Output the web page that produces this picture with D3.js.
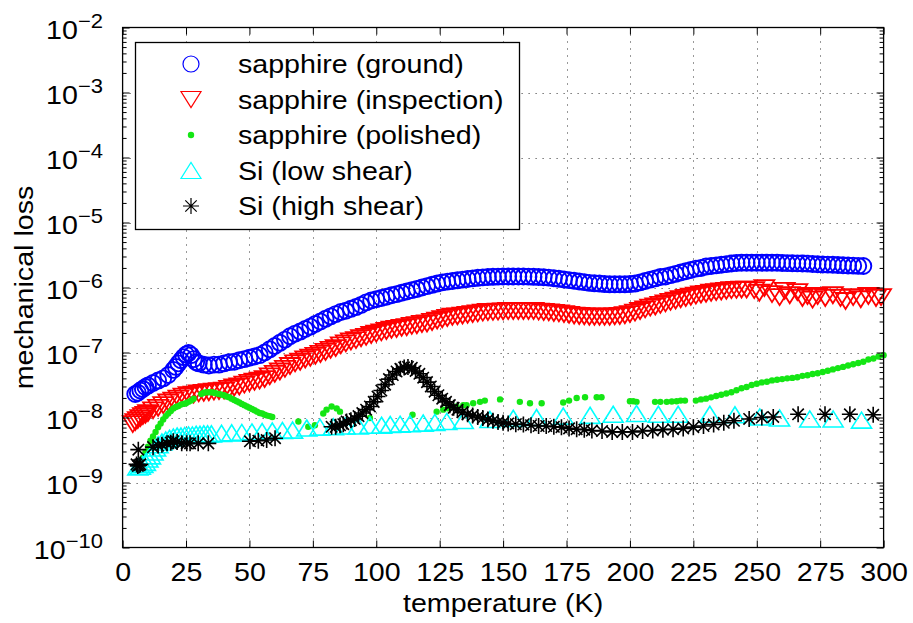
<!DOCTYPE html>
<html>
<head>
<meta charset="utf-8">
<script src="https://cdn.jsdelivr.net/npm/d3@7"></script>
<style>
  body { margin: 0; background: #fff; }
  svg { display: block; font-family: "Liberation Sans", Arial, Helvetica, sans-serif; }
</style>
</head>
<body>
<svg id="chart" width="913" height="623"></svg>
<script>
// [temperature (K), mechanical loss]
const ground = [
  [5,2.3e-8],[6,2.4e-8],[7,2.6e-8],[8,2.75e-8],[9,2.95e-8],[10,3.1e-8],[12,3.4e-8],[14,3.7e-8],[16,4.0e-8],[18,4.5e-8],
  [20,5.4e-8],[21,6.0e-8],[22,6.8e-8],[23,7.6e-8],[24,8.5e-8],[25,9.3e-8],[26,9.8e-8],[27,9.1e-8],[28,7.9e-8],[29,7.1e-8],
  [30,6.8e-8],[32,6.5e-8],[34,6.3e-8],[36,6.5e-8],[38,6.5e-8],[40,6.8e-8],[42,7.1e-8],[44,7.2e-8],[46,7.6e-8],[48,7.9e-8],
  [50,8.3e-8],[52,8.7e-8],[54,9.1e-8],[56,1.0e-7],[58,1.12e-7],[60,1.26e-7],[62,1.41e-7],[64,1.58e-7],[66,1.78e-7],[68,1.95e-7],
  [70,2.1e-7],[72,2.3e-7],[74,2.5e-7],[76,2.75e-7],[78,3.0e-7],[80,3.3e-7],[82,3.6e-7],[84,3.9e-7],[86,4.2e-7],[88,4.4e-7],
  [90,4.7e-7],[92,5.0e-7],[94,5.4e-7],[96,5.9e-7],[98,6.3e-7],[100,6.6e-7],[102,6.9e-7],[104,7.2e-7],[106,7.6e-7],[108,7.9e-7],
  [110,8.3e-7],[112,8.7e-7],[114,9.1e-7],[116,9.5e-7],[118,1.0e-6],[120,1.05e-6],[122,1.1e-6],[124,1.15e-6],[126,1.2e-6],[128,1.23e-6],
  [130,1.26e-6],[132,1.29e-6],[134,1.32e-6],[136,1.35e-6],[138,1.38e-6],[140,1.41e-6],[142,1.43e-6],[144,1.45e-6],[146,1.46e-6],[148,1.47e-6],
  [150,1.48e-6],[152,1.48e-6],[154,1.48e-6],[156,1.48e-6],[158,1.48e-6],[160,1.47e-6],[162,1.46e-6],[164,1.45e-6],[166,1.44e-6],[168,1.42e-6],
  [170,1.39e-6],[172,1.36e-6],[174,1.33e-6],[176,1.3e-6],[178,1.27e-6],[180,1.24e-6],[182,1.21e-6],[184,1.18e-6],[186,1.16e-6],[188,1.15e-6],
  [190,1.13e-6],[192,1.12e-6],[194,1.12e-6],[196,1.12e-6],[198,1.12e-6],[200,1.13e-6],[202,1.15e-6],[204,1.2e-6],[206,1.26e-6],[208,1.32e-6],
  [210,1.38e-6],[212,1.45e-6],[214,1.48e-6],[216,1.55e-6],[218,1.62e-6],[220,1.7e-6],[222,1.78e-6],[224,1.86e-6],[226,1.95e-6],[228,2.0e-6],
  [230,2.1e-6],[232,2.14e-6],[234,2.19e-6],[236,2.24e-6],[238,2.29e-6],[240,2.34e-6],[242,2.38e-6],[244,2.4e-6],[246,2.4e-6],[248,2.4e-6],
  [250,2.4e-6],[252,2.4e-6],[254,2.4e-6],[256,2.4e-6],[258,2.4e-6],[260,2.38e-6],[262,2.37e-6],[264,2.36e-6],[266,2.35e-6],[268,2.34e-6],
  [270,2.33e-6],[272,2.3e-6],[274,2.28e-6],[276,2.26e-6],[278,2.25e-6],[280,2.24e-6],[282,2.22e-6],[284,2.2e-6],[286,2.18e-6],[288,2.17e-6],
  [290,2.15e-6],[292,2.14e-6]
];

const inspection = [
  [4,7.9e-9],[5,8.5e-9],[6,9.1e-9],[7,9.8e-9],[8,1.05e-8],[9,1.1e-8],[10,1.17e-8],[12,1.29e-8],[14,1.41e-8],[16,1.55e-8],
  [18,1.7e-8],[20,1.82e-8],[22,1.95e-8],[24,2.1e-8],[26,2.2e-8],[28,2.25e-8],[30,2.35e-8],[32,2.4e-8],[34,2.45e-8],[36,2.5e-8],
  [38,2.55e-8],[40,2.6e-8],[42,2.75e-8],[44,2.9e-8],[46,3.0e-8],[48,3.2e-8],[50,3.4e-8],[52,3.55e-8],[54,3.7e-8],[56,3.9e-8],
  [58,4.3e-8],[60,4.7e-8],[62,5.1e-8],[64,5.6e-8],[66,6.2e-8],[68,6.8e-8],[70,7.2e-8],[72,7.8e-8],[74,8.3e-8],[76,8.9e-8],
  [78,9.5e-8],[80,1.02e-7],[82,1.1e-7],[84,1.17e-7],[86,1.29e-7],[88,1.38e-7],[90,1.48e-7],[92,1.55e-7],[94,1.66e-7],[96,1.74e-7],
  [98,1.86e-7],[100,1.95e-7],[102,2.04e-7],[104,2.14e-7],[106,2.24e-7],[108,2.3e-7],[110,2.4e-7],[112,2.45e-7],[114,2.57e-7],[116,2.63e-7],
  [118,2.75e-7],[120,2.8e-7],[122,2.95e-7],[124,3.1e-7],[126,3.25e-7],[128,3.4e-7],[130,3.55e-7],[132,3.6e-7],[134,3.7e-7],[136,3.8e-7],
  [138,3.9e-7],[140,4.0e-7],[142,4.1e-7],[144,4.2e-7],[146,4.22e-7],[148,4.25e-7],[150,4.3e-7],[152,4.35e-7],[154,4.35e-7],[156,4.35e-7],
  [158,4.35e-7],[160,4.35e-7],[162,4.35e-7],[164,4.25e-7],[166,4.2e-7],[168,4.15e-7],[170,4.05e-7],[172,4.0e-7],[174,3.9e-7],[176,3.8e-7],
  [178,3.7e-7],[180,3.65e-7],[182,3.6e-7],[184,3.55e-7],[186,3.55e-7],[188,3.55e-7],[190,3.55e-7],[192,3.55e-7],[194,3.6e-7],[196,3.65e-7],
  [198,3.75e-7],[200,3.9e-7],[202,4.1e-7],[204,4.35e-7],[206,4.6e-7],[208,4.9e-7],[210,5.1e-7],[212,5.4e-7],[214,5.7e-7],[216,6.0e-7],
  [218,6.3e-7],[220,6.6e-7],[222,6.9e-7],[224,7.2e-7],[226,7.5e-7],[228,7.8e-7],[230,8.0e-7],[232,8.3e-7],[234,8.5e-7],[236,8.7e-7],
  [238,8.9e-7],[240,9.1e-7],[242,9.2e-7],[244,9.3e-7],[246,9.3e-7],
  [249,9.1e-7],[251,8.3e-7],[253,9.8e-7],[256,7.9e-7],[259,7.1e-7],[261,8.9e-7],[263,7.6e-7],[266,8.5e-7],[268,6.9e-7],[270,7.4e-7],
  [272,6.5e-7],[274,7.4e-7],[277,6.9e-7],[280,7.6e-7],[283,6.9e-7],[285,6.2e-7],[288,7.1e-7],[291,6.6e-7],[294,7.4e-7],[297,6.9e-7],[299,7.1e-7]
];

const polished = [
  [8,2.4e-9],[9,2.95e-9],[10,3.55e-9],[11,4.4e-9],[12,5.1e-9],[13,6.0e-9],[14,7.1e-9],[15,8.1e-9],[16,9.3e-9],[17,1.05e-8],
  [18,1.15e-8],[19,1.26e-8],[20,1.38e-8],[21,1.45e-8],[22,1.5e-8],[23,1.58e-8],[24,1.62e-8],[25,1.66e-8],[26,1.74e-8],[27,1.82e-8],[28,1.95e-8],
  [31,2.3e-8],[32,2.4e-8],[33,2.45e-8],[34,2.45e-8],[35,2.45e-8],[36,2.4e-8],[37,2.35e-8],[38,2.3e-8],[39,2.25e-8],[40,2.2e-8],
  [41,2.1e-8],[42,2.05e-8],[43,1.95e-8],[44,1.86e-8],[45,1.78e-8],[46,1.7e-8],[47,1.62e-8],[48,1.55e-8],[49,1.48e-8],[50,1.41e-8],
  [51,1.35e-8],[52,1.29e-8],[53,1.23e-8],[54,1.17e-8],[55,1.15e-8],[56,1.1e-8],[57,1.07e-8],[58,1.05e-8],[59,1.02e-8],
  [69.3,8.7e-9],[73.2,7.2e-9],[75.8,7.6e-9],[79.1,1.15e-8],[80.4,1.32e-8],[82.4,1.48e-8],[84.4,1.38e-8],[85.7,1.23e-8],
  [97.5,9.8e-9],[114.3,1.1e-8],[123.8,1.23e-8],[126.4,1.32e-8],[128.5,1.38e-8],[131.7,1.48e-8],[134.3,1.55e-8],[135.6,1.55e-8],
  [138.2,1.66e-8],[140.9,1.74e-8],[142.8,1.82e-8],[148.8,1.9e-8],[156.6,1.74e-8],[160.6,1.66e-8],[165.2,1.66e-8],[173.7,1.7e-8],
  [176,1.82e-8],[179,2.0e-8],[182.3,2.05e-8],[186.9,2.05e-8],[188.8,2.05e-8],[200,1.78e-8],[201.3,1.78e-8],[202.6,1.74e-8],
  [209.9,1.74e-8],[212,1.74e-8],[214.5,1.74e-8],[216.5,1.76e-8],[218.4,1.78e-8],[220,1.82e-8],[221.7,1.82e-8],
  [226,1.82e-8],[228,1.9e-8],[230,1.95e-8],[232,2.04e-8],[234,2.14e-8],[236,2.24e-8],[238,2.34e-8],[240,2.45e-8],[242,2.63e-8],
  [244,2.82e-8],[246,2.95e-8],[248,3.16e-8],[250,3.3e-8],[252,3.47e-8],[254,3.55e-8],[256,3.72e-8],[258,3.8e-8],[260,3.9e-8],
  [262,4.0e-8],[264,4.07e-8],[266,4.17e-8],[268,4.37e-8],[270,4.47e-8],[272,4.68e-8],[274,4.79e-8],[276,5.0e-8],[278,5.25e-8],
  [280,5.5e-8],[282,5.75e-8],[284,6.0e-8],[286,6.3e-8],[288,6.6e-8],[290,6.9e-8],[292,7.2e-8],[294,7.8e-8],[296,8.1e-8],[298,8.7e-8],[300,9.1e-8]
];

const lowShear = [
  [6,1.74e-9],[7,1.78e-9],[8,1.9e-9],[9,2.04e-9],[10,2.3e-9],[11,2.57e-9],[12,2.95e-9],[13,3.4e-9],[14,3.8e-9],[15.5,4.2e-9],
  [17,4.5e-9],[18.5,4.8e-9],[20,5.0e-9],[21.5,5.2e-9],[23,5.2e-9],[24.5,5.3e-9],[26,5.4e-9],[27.5,5.4e-9],[29,5.5e-9],[30.5,5.5e-9],
  [32,5.6e-9],[33.5,5.6e-9],[35,5.6e-9],[39,5.7e-9],[43,5.8e-9],[47,5.9e-9],[51,6.0e-9],[55,6.1e-9],[59,6.2e-9],[63,6.3e-9],[67,6.4e-9],
  [72.6,6.9e-9],[77.8,7.1e-9],[83.1,7.2e-9],[87.7,7.4e-9],[92.9,7.4e-9],[97.5,7.6e-9],[102.1,7.6e-9],[105.5,7.8e-9],[109.4,7.9e-9],
  [113.3,8.0e-9],[118.5,8.2e-9],[123.1,8.4e-9],[127.8,8.7e-9],[134.3,9.0e-9],[144.8,9.3e-9],[154,9.7e-9],[163.2,1.0e-8],[173.7,1.05e-8],
  [184.3,1.08e-8],[193.4,1.12e-8],[202.6,1.15e-8],[211.2,1.12e-8],[219,1.12e-8],[231.5,1.12e-8],[241.4,1.1e-8],[251.2,1.02e-8],
  [259,9.8e-9],[270.9,9.5e-9],[280.1,9.5e-9],[291.3,9.1e-9]
];

const highShear = [
  [5.5,1.9e-9],[6,1.8e-9],[6.5,1.85e-9],[7,1.9e-9],[6.2,3.2e-9],[12,3.5e-9],[14,3.7e-9],[15.5,3.8e-9],[17.5,4.0e-9],[19,4.1e-9],
  [20,4.3e-9],[21.5,4.2e-9],[23.3,4.0e-9],[25.3,4.0e-9],[26.6,4.0e-9],[29.8,4.0e-9],[33.8,4.0e-9],
  [50.2,4.3e-9],[53.5,4.4e-9],[56.8,4.5e-9],[60.1,4.8e-9],
  [82.4,7.2e-9],[84,7.2e-9],[85.7,7.6e-9],[87,7.9e-9],[88.3,8.7e-9],[90,9.1e-9],[91.5,9.5e-9],[93,1.05e-8],[94.5,1.17e-8],[96,1.32e-8],
  [97.5,1.48e-8],[99,1.74e-8],[100.5,2.1e-8],[102,2.6e-8],[103.5,3.2e-8],[105,3.9e-8],[106.5,4.5e-8],[108,5.1e-8],[109.5,5.6e-8],
  [111,5.9e-8],[112.5,6.0e-8],[114,5.8e-8],[115.5,5.2e-8],[117,4.7e-8],[118.5,4.1e-8],[120,3.5e-8],[121.5,3.0e-8],[123,2.5e-8],
  [124.5,2.2e-8],[126,1.95e-8],[127.5,1.74e-8],[129,1.55e-8],[130.5,1.41e-8],[132,1.32e-8],[134,1.2e-8],[136,1.12e-8],[138,1.07e-8],
  [140,1.02e-8],[142,9.8e-9],[144,9.3e-9],[146,8.9e-9],[148,8.5e-9],[150,8.3e-9],[152,8.1e-9],[155,7.9e-9],[158,7.8e-9],[161,7.6e-9],
  [164,7.4e-9],[167,7.4e-9],[170,7.2e-9],[173,7.1e-9],[176,6.8e-9],[179,6.6e-9],[182,6.5e-9],[185,6.3e-9],[189,6.2e-9],[193,6.0e-9],
  [197,6.0e-9],[201,6.0e-9],[205,6.2e-9],[209,6.3e-9],[213,6.5e-9],[217,6.6e-9],[221,6.8e-9],[225,7.1e-9],[229,7.4e-9],[233,7.8e-9],
  [237,8.3e-9],[241,8.9e-9],[247,9.5e-9],[252,1.0e-8],[256.5,1.02e-8],[266.3,1.12e-8],[276.9,1.12e-8],[286.7,1.12e-8],[295.9,1.1e-8]
];

const xTicks = [0, 25, 50, 75, 100, 125, 150, 175, 200, 225, 250, 275, 300];
const yExponents = [-10, -9, -8, -7, -6, -5, -4, -3, -2];
const legendLabels = ['sapphire (ground)', 'sapphire (inspection)', 'sapphire (polished)', 'Si (low shear)', 'Si (high shear)'];

const svg = d3.select('#chart');
const plotL = 122.6, plotR = 883.6, plotT = 27.5, plotB = 547.5;
const SX = 1.1; // glyphs in the figure are a bit wider than the font
const FS = 26;
const MW = 1.6; // marker line width

const x = d3.scaleLinear().domain([0, 300]).range([plotL, plotR]);
const y = d3.scaleLog().domain([1e-10, 1e-2]).range([plotB, plotT]);

const decades = yExponents.map(e => Math.pow(10, e));
const minors = [];
decades.slice(0, -1).forEach(d => { for (let k = 2; k <= 9; k++) minors.push(d * k); });

svg.append('rect').attr('width', 913).attr('height', 623).attr('fill', '#fff');

// dotted grid
const grid = svg.append('g').attr('stroke', '#333').attr('stroke-width', 1);
grid.selectAll('line.gx').data(xTicks.slice(1, -1)).enter().append('line')
  .attr('x1', d => Math.round(x(d)) + 0.5).attr('x2', d => Math.round(x(d)) + 0.5)
  .attr('y1', plotT).attr('y2', plotB)
  .attr('stroke-dasharray', '1,6');
grid.selectAll('line.gy').data(decades.slice(1, -1)).enter().append('line')
  .attr('y1', d => Math.round(y(d)) + 0.5).attr('y2', d => Math.round(y(d)) + 0.5)
  .attr('x1', plotL).attr('x2', plotR)
  .attr('stroke-dasharray', '1,6');

// marker shapes
const triDown = 'M-10,-8L10,-8L0,8Z';
const triUp = 'M-10,8L10,8L0,-8Z';
const star = 'M-8,0H8M0,-8V8M-5.7,-5.7L5.7,5.7M-5.7,5.7L5.7,-5.7';

const plot = svg.append('g');

plot.append('g').selectAll('circle').data(ground).enter().append('circle')
  .attr('cx', d => x(d[0])).attr('cy', d => y(d[1])).attr('r', 8)
  .attr('fill', 'none').attr('stroke', '#0000ff').attr('stroke-width', 1.9);

plot.append('g').selectAll('path').data(inspection).enter().append('path')
  .attr('transform', d => `translate(${x(d[0])},${y(d[1])})`).attr('d', triDown)
  .attr('fill', 'none').attr('stroke', '#ff0000').attr('stroke-width', 1.8);

plot.append('g').selectAll('circle').data(polished).enter().append('circle')
  .attr('cx', d => x(d[0])).attr('cy', d => y(d[1])).attr('r', 3.2)
  .attr('fill', '#14e614');

plot.append('g').selectAll('path').data(lowShear).enter().append('path')
  .attr('transform', d => `translate(${x(d[0])},${y(d[1])})`).attr('d', triUp)
  .attr('fill', 'none').attr('stroke', '#00ffff').attr('stroke-width', MW);

plot.append('g').selectAll('path').data(highShear).enter().append('path')
  .attr('transform', d => `translate(${x(d[0])},${y(d[1])})`).attr('d', star)
  .attr('fill', 'none').attr('stroke', '#000').attr('stroke-width', MW);

// axes: ticks inward on all four sides
const axes = svg.append('g');
const xb = axes.append('g').attr('transform', `translate(0,${plotB})`)
  .call(d3.axisBottom(x).tickValues(xTicks).tickSize(-7).tickPadding(15));
xb.selectAll('text').attr('font-size', FS).attr('font-family', 'Liberation Sans, Arial, sans-serif')
  .attr('fill', '#000').attr('transform', `scale(${SX},1)`);
axes.append('g').attr('transform', `translate(0,${plotT})`)
  .call(d3.axisTop(x).tickValues(xTicks).tickSize(-7).tickFormat(''));
axes.append('g').attr('transform', `translate(${plotL},0)`)
  .call(d3.axisLeft(y).tickValues(decades).tickSize(-7).tickFormat(''));
axes.append('g').attr('transform', `translate(${plotL},0)`)
  .call(d3.axisLeft(y).tickValues(minors).tickSize(-4).tickFormat(''));
axes.append('g').attr('transform', `translate(${plotR},0)`)
  .call(d3.axisRight(y).tickValues(decades).tickSize(-7).tickFormat(''));
axes.append('g').attr('transform', `translate(${plotR},0)`)
  .call(d3.axisRight(y).tickValues(minors).tickSize(-4).tickFormat(''));
axes.selectAll('.domain').remove();
axes.selectAll('.tick line').attr('stroke', '#000');

axes.append('rect')
  .attr('x', plotL).attr('y', plotT).attr('width', plotR - plotL).attr('height', plotB - plotT)
  .attr('fill', 'none').attr('stroke', '#000').attr('stroke-width', 1.3);

// y tick labels 10^n
const yl = svg.append('g').selectAll('text').data(yExponents).enter().append('text')
  .attr('transform', e => `translate(103,${y(Math.pow(10, e)) + 11.5}) scale(${SX},1)`)
  .attr('text-anchor', 'end').attr('font-size', FS);
yl.append('tspan').text('10');
yl.append('tspan').attr('font-size', 20).attr('dy', -11.5).text(e => '\u2212' + Math.abs(e));

// axis labels
svg.append('text')
  .attr('transform', `translate(${(plotL + plotR) / 2},612) scale(${SX},1)`)
  .attr('text-anchor', 'middle').attr('font-size', FS)
  .text('temperature (K)');
svg.append('text')
  .attr('transform', `translate(33,${(plotT + plotB) / 2}) rotate(-90) scale(${SX},1)`)
  .attr('text-anchor', 'middle').attr('font-size', FS)
  .text('mechanical loss');

// legend
const lg = svg.append('g');
lg.append('rect').attr('x', 135.5).attr('y', 42.5).attr('width', 384).attr('height', 187)
  .attr('fill', '#fff').attr('stroke', '#000').attr('stroke-width', 1.3);
const rowY = i => 64 + i * 35.5;
lg.append('circle').attr('cx', 191).attr('cy', rowY(0)).attr('r', 8)
  .attr('fill', 'none').attr('stroke', '#0000ff').attr('stroke-width', 1.2);
lg.append('path').attr('transform', `translate(191,${rowY(1)})`).attr('d', triDown)
  .attr('fill', 'none').attr('stroke', '#ff0000').attr('stroke-width', 1.2);
lg.append('circle').attr('cx', 191).attr('cy', rowY(2)).attr('r', 3.2).attr('fill', '#14e614');
lg.append('path').attr('transform', `translate(191,${rowY(3)})`).attr('d', triUp)
  .attr('fill', 'none').attr('stroke', '#00ffff').attr('stroke-width', 1.2);
lg.append('path').attr('transform', `translate(191,${rowY(4)})`).attr('d', star)
  .attr('fill', 'none').attr('stroke', '#000').attr('stroke-width', 1.2);
lg.selectAll('text').data(legendLabels).enter().append('text')
  .attr('transform', (d, i) => `translate(238,${rowY(i) + 9}) scale(${SX},1)`)
  .attr('font-size', FS)
  .text(d => d);
</script>
</body>
</html>
